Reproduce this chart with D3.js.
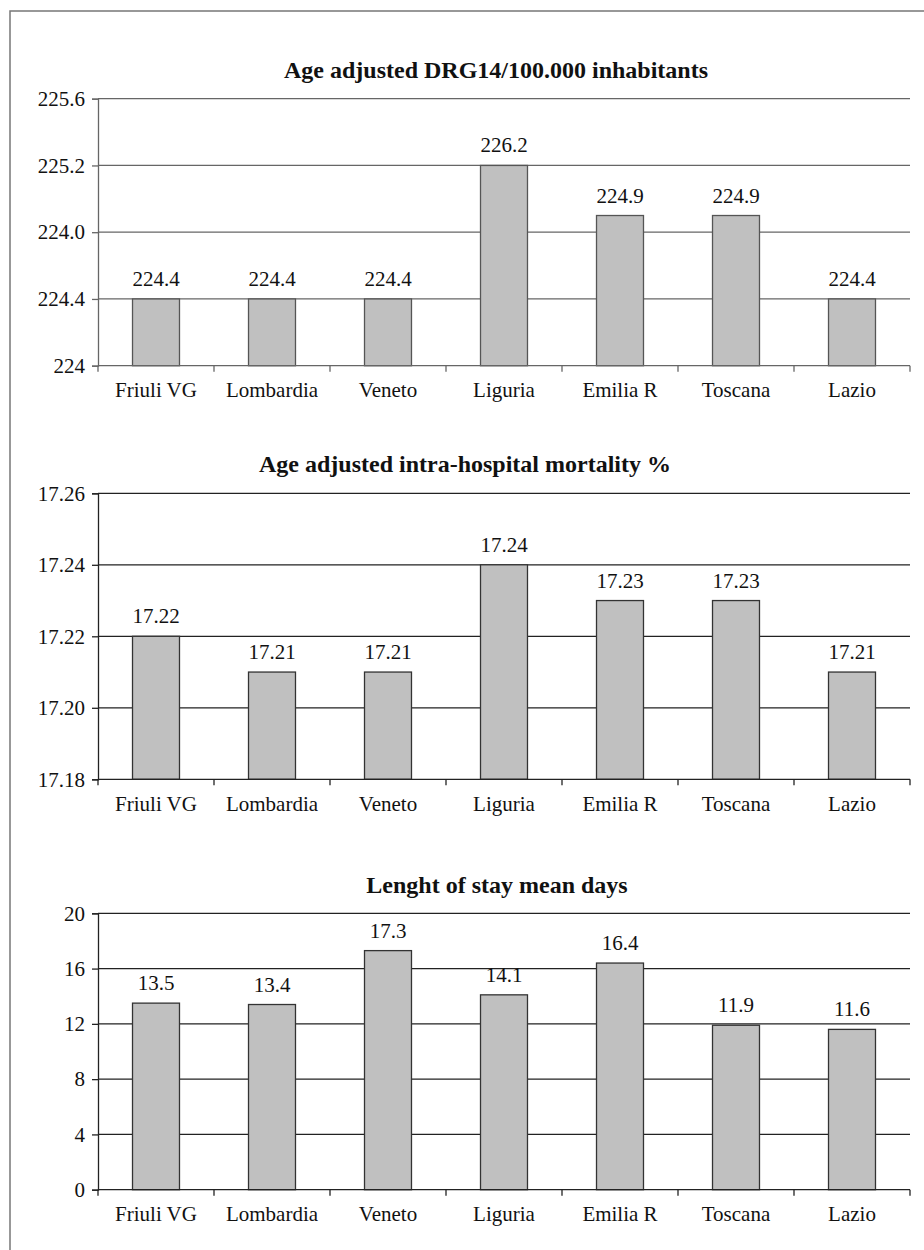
<!DOCTYPE html>
<html lang="en">
<head>
<meta charset="utf-8">
<title>Regional DRG14 indicators</title>
<script src="https://cdn.jsdelivr.net/npm/d3@7/dist/d3.min.js"></script>
<style>
  body { margin: 0; background: #fff; }
</style>
</head>
<body>
<script>
// categories shared by all three panels
var regions = ["Friuli VG", "Lombardia", "Veneto", "Liguria", "Emilia R", "Toscana", "Lazio"];

// panel 1: the printed y axis is not monotonic, so bar heights are read in gridline steps
var drgTicks = ["224", "224.4", "224.0", "225.2", "225.6"];
var drgSteps = [1, 1, 1, 3, 2.25, 2.25, 1];
var drgLabels = ["224.4", "224.4", "224.4", "226.2", "224.9", "224.9", "224.4"];

// panel 2
var mortTicks = [17.18, 17.20, 17.22, 17.24, 17.26];
var mortValues = [17.22, 17.21, 17.21, 17.24, 17.23, 17.23, 17.21];

// panel 3
var stayTicks = [0, 4, 8, 12, 16, 20];
var stayValues = [13.5, 13.4, 17.3, 14.1, 16.4, 11.9, 11.6];

var W = 924, H = 1250;
var left = 98, right = 910;
var serif = "'Liberation Serif', 'Times New Roman', Times, 'DejaVu Serif', serif";

var svg = d3.select("body").append("svg")
  .attr("width", W)
  .attr("height", H)
  .attr("font-family", serif);

// frame of the scanned page
svg.append("path")
  .attr("d", "M10," + H + "V11H" + W)
  .attr("fill", "none")
  .attr("stroke", "#777")
  .attr("stroke-width", 1.5);

function panel(opt) {
  var g = svg.append("g");

  var x = d3.scaleBand()
    .domain(regions)
    .range([left, right])
    .paddingInner(0.595)
    .paddingOuter(0.2975);

  var y = d3.scaleLinear()
    .domain(opt.domain)
    .range([opt.bottom, opt.top]);

  // horizontal gridlines
  g.selectAll("line.grid")
    .data(opt.ticks.slice(1))
    .enter().append("line")
    .attr("class", "grid")
    .attr("x1", left).attr("x2", right)
    .attr("y1", function(d) { return y(d); })
    .attr("y2", function(d) { return y(d); })
    .attr("stroke", opt.lineColor)
    .attr("stroke-width", 1.3);

  // y axis
  var yAxis = d3.axisLeft(y)
    .tickValues(opt.ticks)
    .tickSize(6)
    .tickPadding(7)
    .tickFormat(opt.format);

  var ya = g.append("g")
    .attr("transform", "translate(" + left + ",0)")
    .call(yAxis)
    .attr("font-family", serif)
    .attr("font-size", 21);
  ya.select(".domain").attr("stroke", opt.lineColor).attr("stroke-width", 1.3);
  ya.selectAll(".tick line").attr("stroke", opt.lineColor).attr("stroke-width", 1.3);
  ya.selectAll(".tick text").attr("fill", "#111");

  // bars
  var data = regions.map(function(r, i) {
    return { region: r, value: opt.values[i], label: opt.labels[i] };
  });

  g.selectAll("rect.bar")
    .data(data)
    .enter().append("rect")
    .attr("class", "bar")
    .attr("x", function(d) { return x(d.region); })
    .attr("width", x.bandwidth())
    .attr("y", function(d) { return y(d.value); })
    .attr("height", function(d) { return opt.bottom - y(d.value); })
    .attr("fill", "#c0c0c0")
    .attr("stroke", opt.barStroke)
    .attr("stroke-width", 1.3);

  // value labels above bars
  g.selectAll("text.val")
    .data(data)
    .enter().append("text")
    .attr("class", "val")
    .attr("x", function(d) { return x(d.region) + x.bandwidth() / 2; })
    .attr("y", function(d) { return y(d.value) - 13; })
    .attr("text-anchor", "middle")
    .attr("font-size", 21)
    .attr("fill", "#111")
    .text(function(d) { return d.label; });

  // x axis: category boundaries carry the tick marks
  var step = x.step();
  var xa = g.append("g");
  xa.append("line")
    .attr("x1", left).attr("x2", right)
    .attr("y1", opt.bottom).attr("y2", opt.bottom)
    .attr("stroke", opt.lineColor)
    .attr("stroke-width", 1.3);
  xa.selectAll("line.tk")
    .data(d3.range(regions.length + 1))
    .enter().append("line")
    .attr("class", "tk")
    .attr("x1", function(k) { return left + k * step; })
    .attr("x2", function(k) { return left + k * step; })
    .attr("y1", opt.bottom)
    .attr("y2", opt.bottom + 6)
    .attr("stroke", opt.lineColor)
    .attr("stroke-width", 1.3);
  xa.selectAll("text")
    .data(regions)
    .enter().append("text")
    .attr("x", function(d) { return x(d) + x.bandwidth() / 2; })
    .attr("y", opt.bottom + 31.5)
    .attr("text-anchor", "middle")
    .attr("font-size", 21)
    .attr("fill", "#111")
    .text(function(d) { return d; });

  // title
  g.append("text")
    .attr("x", opt.titleX)
    .attr("y", opt.titleY)
    .attr("text-anchor", "middle")
    .attr("font-size", 24)
    .attr("font-weight", "bold")
    .attr("fill", "#111")
    .text(opt.title);
}

panel({
  title: "Age adjusted DRG14/100.000 inhabitants",
  titleX: 496, titleY: 78,
  top: 98.7, bottom: 365.7,
  domain: [0, 4],
  ticks: [0, 1, 2, 3, 4],
  format: function(d) { return drgTicks[d]; },
  values: drgSteps,
  labels: drgLabels,
  lineColor: "#666",
  barStroke: "#555"
});

panel({
  title: "Age adjusted intra-hospital mortality %",
  titleX: 465, titleY: 471.7,
  top: 493.3, bottom: 779.3,
  domain: [17.18, 17.26],
  ticks: mortTicks,
  format: d3.format(".2f"),
  values: mortValues,
  labels: mortValues.map(d3.format(".2f")),
  lineColor: "#222",
  barStroke: "#333"
});

panel({
  title: "Lenght of stay mean days",
  titleX: 497, titleY: 893,
  top: 913.3, bottom: 1189.7,
  domain: [0, 20],
  ticks: stayTicks,
  format: d3.format("d"),
  values: stayValues,
  labels: stayValues.map(d3.format(".1f")),
  lineColor: "#222",
  barStroke: "#333"
});
</script>
</body>
</html>
